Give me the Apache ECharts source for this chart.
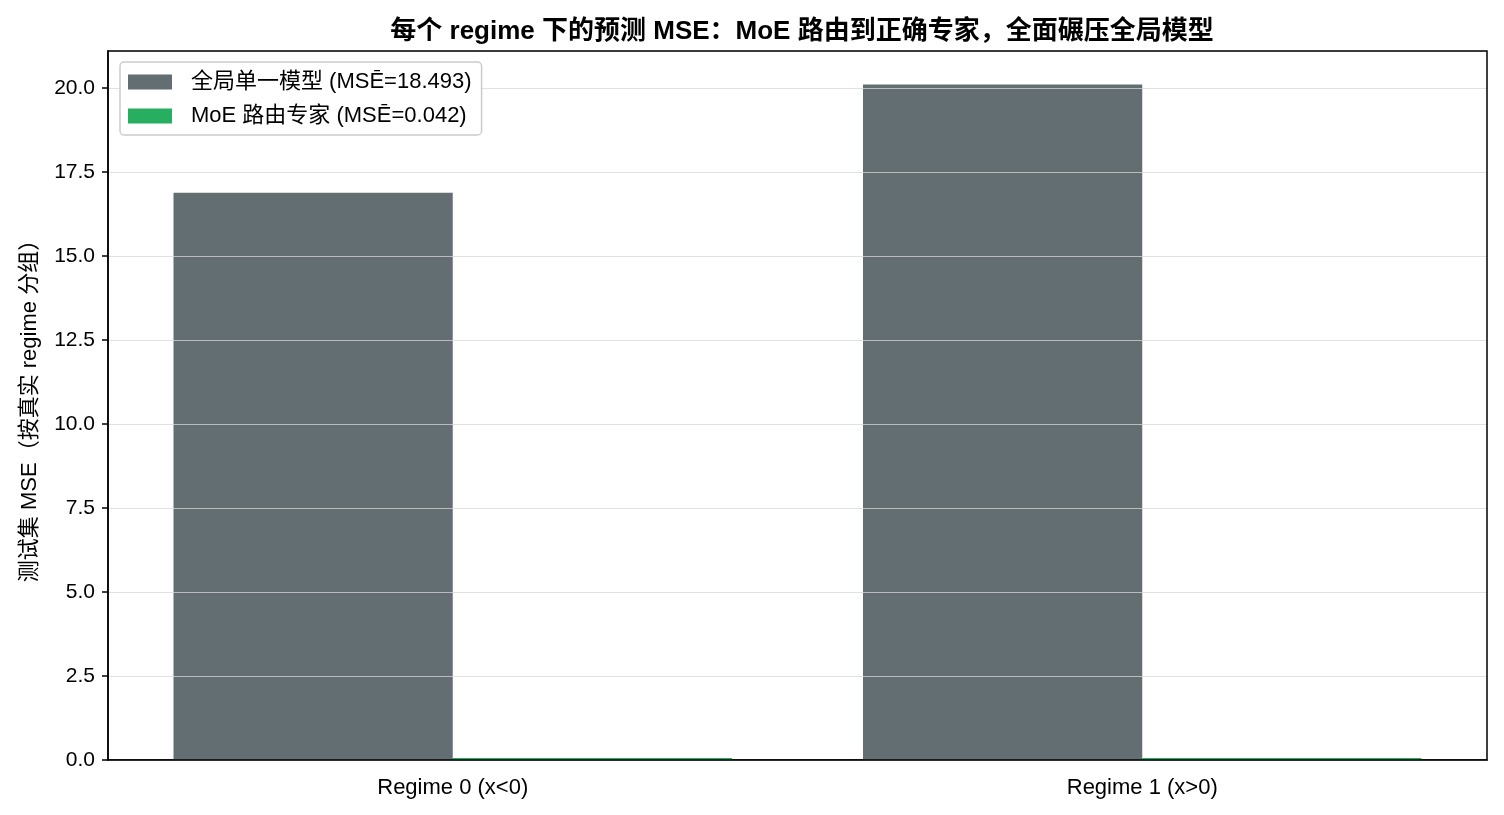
<!DOCTYPE html>
<html>
<head>
<meta charset="utf-8">
<script src="https://cdn.jsdelivr.net/npm/echarts@6/dist/echarts.min.js"></script>
<style>
  html, body { margin: 0; padding: 0; background: #fff; }
  #main { width: 1504px; height: 815px; }
</style>
</head>
<body>
<div id="main"></div>
<script>
// 数据
var categories = ['Regime 0 (x<0)', 'Regime 1 (x>0)'];
var globalMse = [16.88, 20.10];
var moeMse = [0.040, 0.045];
var seriesNames = ['全局单一模型 (MSĒ=18.493)', 'MoE 路由专家 (MSĒ=0.042)'];
var yTicks = [0, 2.5, 5, 7.5, 10, 12.5, 15, 17.5, 20];

var FONT = '"Liberation Sans", "Noto Sans CJK SC", sans-serif';

var chart = echarts.init(document.getElementById('main'));

var option = {
    backgroundColor: '#ffffff',
    textStyle: { fontFamily: FONT },
    animation: false,
    title: {
        text: '每个 regime 下的预测 MSE：MoE 路由到正确专家，全面碾压全局模型',
        left: 797,
        textAlign: 'center',
        top: 14,
        textStyle: { fontSize: 26, fontWeight: 'bold', color: '#000', fontFamily: FONT }
    },
    legend: {
        z: 20,
        orient: 'vertical',
        left: 120,
        top: 62,
        padding: [9, 10, 8, 8],
        itemGap: 12,
        itemWidth: 44,
        itemHeight: 15,
        icon: 'rect',
        backgroundColor: '#fff',
        borderColor: '#cccccc',
        borderWidth: 1.5,
        borderRadius: 4,
        textStyle: { fontSize: 22, color: '#000', padding: [0, 0, 0, 14], fontFamily: FONT },
        data: seriesNames
    },
    grid: {
        left: 108,
        right: 17,
        top: 51,
        bottom: 55,
        show: true,
        borderColor: '#000',
        borderWidth: 1.5,
        backgroundColor: 'transparent',
        z: 6
    },
    xAxis: {
        type: 'category',
        data: categories,
        axisLine: { lineStyle: { color: '#000', width: 1.5 } },
        axisTick: { alignWithLabel: true, length: 6, lineStyle: { color: '#000', width: 1.5 } },
        axisLabel: { fontSize: 22, color: '#000', margin: 17 },
        splitLine: { show: false }
    },
    yAxis: {
        type: 'value',
        min: 0,
        max: 21.1,
        interval: 2.5,
        z: 5,
        name: '测试集 MSE（按真实 regime 分组）',
        nameLocation: 'middle',
        nameGap: 67,
        nameTextStyle: { fontSize: 22, color: '#000' },
        axisLine: { show: true, lineStyle: { color: '#000', width: 1.5 } },
        axisTick: { show: true, length: 6, lineStyle: { color: '#000', width: 1.5 } },
        axisLabel: {
            fontSize: 21,
            color: '#000',
            margin: 13,
            showMaxLabel: false,
            formatter: function (v) {
                return yTicks.indexOf(v) >= 0 ? v.toFixed(1) : '';
            }
        },
        splitLine: { show: true, lineStyle: { color: 'rgba(215,215,215,0.75)', width: 1.2 } }
    },
    series: [
        {
            name: seriesNames[0],
            type: 'bar',
            data: globalMse,
            barGap: '0%',
            barCategoryGap: '19%',
            itemStyle: { color: '#636e72' }
        },
        {
            name: seriesNames[1],
            type: 'bar',
            data: moeMse,
            barMinHeight: 2,
            itemStyle: { color: '#27ae60' }
        }
    ]
};

chart.setOption(option);
</script>
</body>
</html>
